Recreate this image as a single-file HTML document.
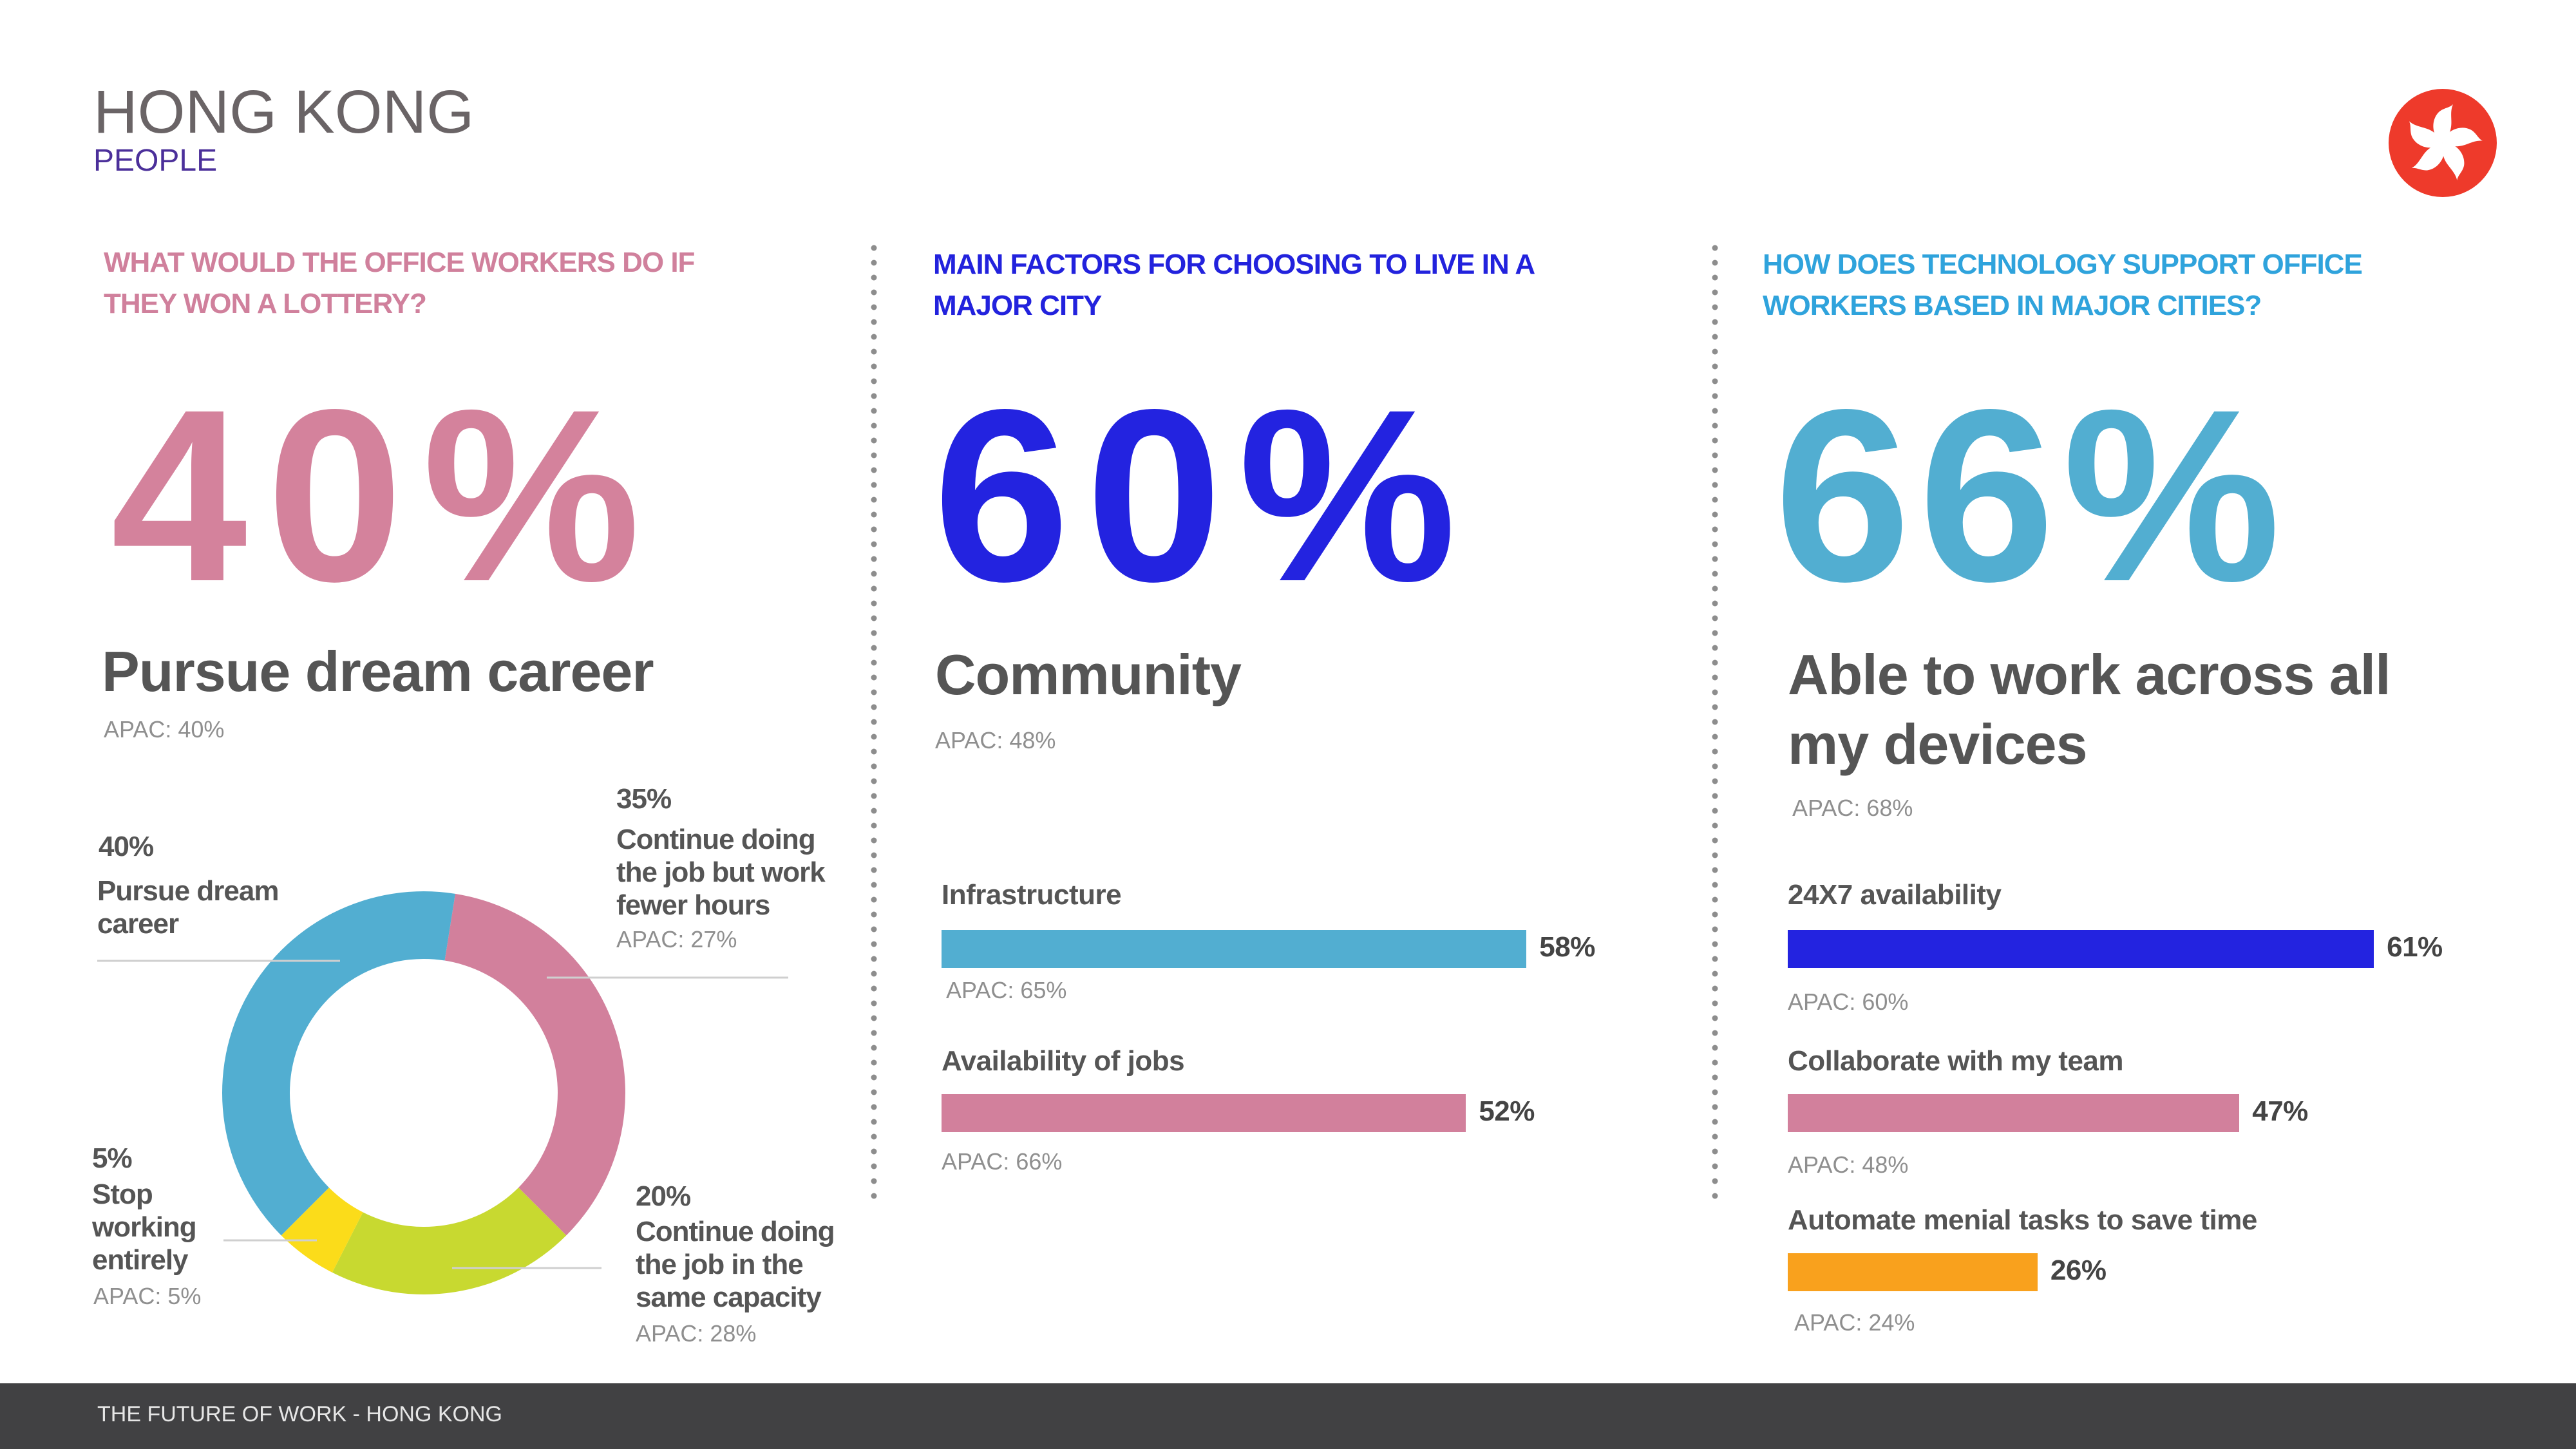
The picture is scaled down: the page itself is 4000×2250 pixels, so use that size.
<!DOCTYPE html>
<html><head><meta charset="utf-8">
<style>
body{margin:0;width:4000px;height:2250px;position:relative;background:#fff;font-family:"Liberation Sans",sans-serif;overflow:hidden}
.t{position:absolute;white-space:nowrap}
.h{font-size:44px;line-height:64px;font-weight:bold;letter-spacing:-1px}
.big{font-size:381px;line-height:381px;font-weight:bold;letter-spacing:18px}
.sub{font-size:88px;line-height:108px;font-weight:bold;color:#555;letter-spacing:-1px}
.apac{font-size:36px;line-height:36px;color:#8f8f8f}
.lbl{font-size:44px;line-height:51px;font-weight:bold;color:#555;letter-spacing:-1px}
.blbl{font-size:44px;line-height:44px;font-weight:bold;color:#555;letter-spacing:-0.5px}
</style></head><body>
<div class="t" style="left:145px;top:127px;font-size:95px;line-height:95px;color:#6a6466">HONG KONG</div>
<div class="t" style="left:145px;top:226px;font-size:48px;line-height:48px;color:#4b2f9a">PEOPLE</div>
<svg style="position:absolute;left:3709px;top:138px" width="168" height="168" viewBox="-84 -84 168 168">
<circle r="84" fill="#ee3a2b"/>
<g fill="#fff">
<path id="pt" d="M0,0 C-16,-8 -20,-34 -6,-48 C2,-55 10,-54 16,-60 C10,-46 16,-34 12,-20 C9,-10 4,-4 0,0Z"/>
<use href="#pt" transform="rotate(72)"/><use href="#pt" transform="rotate(144)"/><use href="#pt" transform="rotate(216)"/><use href="#pt" transform="rotate(288)"/>
</g></svg>

<div class="t h" style="left:161px;top:376px;color:#d0809c">WHAT WOULD THE OFFICE WORKERS DO IF<br>THEY WON A LOTTERY?</div>
<div class="t h" style="left:1449px;top:379px;color:#2222dd">MAIN FACTORS FOR CHOOSING TO LIVE IN A<br>MAJOR CITY</div>
<div class="t h" style="left:2737px;top:379px;color:#2fa3dc">HOW DOES TECHNOLOGY SUPPORT OFFICE<br>WORKERS BASED IN MAJOR CITIES?</div>

<div class="t big" style="left:172px;top:579px;color:#d4829c;letter-spacing:30px">40%</div>
<div class="t big" style="left:1449px;top:579px;color:#2323e0;letter-spacing:25px">60%</div>
<div class="t big" style="left:2755px;top:579px;color:#52aed1;letter-spacing:12px">66%</div>

<div class="t sub" style="left:158px;top:989px">Pursue dream career</div>
<div class="t sub" style="left:1452px;top:994px">Community</div>
<div class="t sub" style="left:2776px;top:994px">Able to work across all<br>my devices</div>
<div class="t apac" style="left:161px;top:1115px">APAC: 40%</div>
<div class="t apac" style="left:1452px;top:1132px">APAC: 48%</div>
<div class="t apac" style="left:2783px;top:1237px">APAC: 68%</div>

<svg id="dots" style="position:absolute;left:0;top:0" width="4000" height="2250"></svg>
<svg id="donut" style="position:absolute;left:0;top:0" width="4000" height="2250"></svg>

<div class="t lbl" style="left:153px;top:1289px">40%</div>
<div class="t lbl" style="left:151px;top:1358px">Pursue dream<br>career</div>
<div class="t lbl" style="left:957px;top:1215px">35%</div>
<div class="t lbl" style="left:957px;top:1278px">Continue doing<br>the job but work<br>fewer hours</div>
<div class="t apac" style="left:957px;top:1441px">APAC: 27%</div>
<div class="t lbl" style="left:143px;top:1773px">5%</div>
<div class="t lbl" style="left:143px;top:1829px">Stop<br>working<br>entirely</div>
<div class="t apac" style="left:145px;top:1995px">APAC: 5%</div>
<div class="t lbl" style="left:987px;top:1832px">20%</div>
<div class="t lbl" style="left:987px;top:1887px">Continue doing<br>the job in the<br>same capacity</div>
<div class="t apac" style="left:987px;top:2053px">APAC: 28%</div>

<div id="bars"></div>

<div style="position:absolute;left:0;top:2148px;width:4000px;height:102px;background:#414143"></div>
<div class="t" style="left:151px;top:2179px;font-size:34px;line-height:34px;color:#e6e6e6">THE FUTURE OF WORK - HONG KONG</div>

<script>
const donutCategories=["Continue doing the job but work fewer hours","Continue doing the job in the same capacity","Stop working entirely","Pursue dream career"];
const donutValues=[35,20,5,40];
const donutColors=["#d2809c","#c8d930","#fbdc1a","#52aed1"];
const cityCategories=["Infrastructure","Availability of jobs"];
const cityValues=[58,52];
const cityApac=["APAC: 65%","APAC: 66%"];
const techCategories=["24X7 availability","Collaborate with my team","Automate menial tasks to save time"];
const techValues=[61,47,26];
const techApac=["APAC: 60%","APAC: 48%","APAC: 24%"];

const NS="http://www.w3.org/2000/svg";
const dots=document.getElementById('dots');
[1357,2663].forEach(x=>{for(let y=385;y<=1875;y+=23){const c=document.createElementNS(NS,'circle');


c.setAttribute('cx',x);c.setAttribute('cy',y);c.setAttribute('r',4.5);c.setAttribute('fill','#8d8d8d');dots.appendChild(c);}});
const dn=document.getElementById('donut');
const cx=658,cy=1697,R=313,r=208,start=9;
const tot=donutValues.reduce((a,b)=>a+b,0);
let a0=start;
function pt(rad,deg){const t=(deg-90)*Math.PI/180;return [cx+rad*Math.cos(t),cy+rad*Math.sin(t)];}
donutValues.forEach((v,i)=>{const a1=a0+v/tot*360;const big=(a1-a0)>180?1:0;
const p1=pt(R,a0),p2=pt(R,a1),p3=pt(r,a1),p4=pt(r,a0);
const p=document.createElementNS(NS,'path');


p.setAttribute('d',`M${p1} A${R},${R} 0 ${big} 1 ${p2} L${p3} A${r},${r} 0 ${big} 0 ${p4}Z`);
p.setAttribute('fill',donutColors[i]);dn.appendChild(p);a0=a1;});
[[151,528,1492],[849,1224,1518],[347,492,1926],[702,934,1969]].forEach(l=>{const e=document.createElementNS(NS,'line');


e.setAttribute('x1',l[0]);e.setAttribute('x2',l[1]);e.setAttribute('y1',l[2]);e.setAttribute('y2',l[2]);e.setAttribute('stroke','#cfcfcf');e.setAttribute('stroke-width',3);dn.appendChild(e);});
const bars=document.getElementById('bars');
function mk(cls,txt,style){const d=document.createElement('div');d.className='t '+cls;d.textContent=txt;d.setAttribute('style',style);bars.appendChild(d);return d;}
function drawBars(cats,vals,apac,colors,x0,perPct,rows){
 cats.forEach((c,i)=>{const row=rows[i];const w=vals[i]*perPct;
  const l=mk('blbl',c,`left:${x0}px;top:${row.lbl}px`);
  
  
  const b=document.createElement('div');
  
  
  b.setAttribute('style',`position:absolute;left:${x0}px;top:${row.bar}px;width:${w}px;height:59px;background:${colors[i]}`);bars.appendChild(b);
  const v=mk('blbl',vals[i]+'%',`left:${x0+w+20}px;top:${row.bar+5}px;color:#444`);
  
  
  const a=mk('apac',apac[i],`left:${x0+row.ax}px;top:${row.apac}px`);
  
  
 });}
drawBars(cityCategories,cityValues,cityApac,["#52aed1","#d2809c"],1462,15.66,
 [{lbl:1368,bar:1444,apac:1520,ax:7},{lbl:1626,bar:1699,apac:1786,ax:0}]);
drawBars(techCategories,techValues,techApac,["#2323e0","#d2809c","#f9a11d"],2776,14.92,
 [{lbl:1368,bar:1444,apac:1538,ax:0},{lbl:1626,bar:1699,apac:1791,ax:0},{lbl:1873,bar:1946,apac:2036,ax:10}]);
</script>
</body></html>
